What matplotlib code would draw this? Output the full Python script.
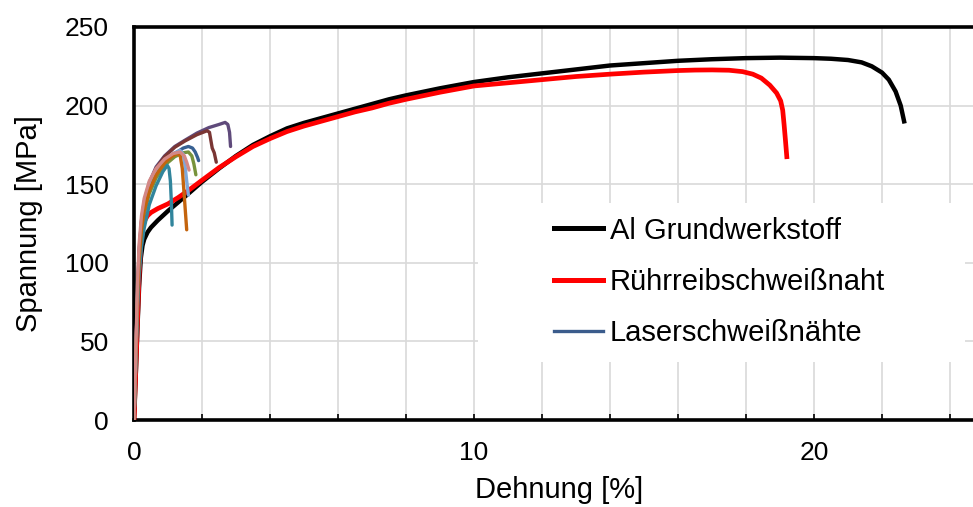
import matplotlib
matplotlib.use("Agg")
import matplotlib.pyplot as plt
from matplotlib.patches import Rectangle
from matplotlib.lines import Line2D

plt.rcParams['font.family'] = ['Liberation Sans', 'DejaVu Sans']

# Grundwerkstoff (Aluminium)
grund_dehnung = [0, 0.05, 0.1, 0.15, 0.2, 0.25, 0.3, 0.4, 0.5, 0.7, 1.0, 1.3, 1.6, 2.0, 2.5,
                 3.0, 3.5, 4.0, 4.5, 5.0, 5.5, 6.0, 6.5, 7.0, 7.5, 8.0, 9.0, 10, 11, 12, 13, 14, 15, 16, 17,
                 18, 19, 20, 20.5, 21, 21.4, 21.7, 22.0, 22.2, 22.4, 22.55, 22.65]
grund_spannung = [0, 28, 58, 85, 103, 111, 115, 119.5, 122.5, 127, 133, 138.5, 144, 151.5, 160,
                  168, 175, 180.5, 185.5, 189, 192, 195, 198, 201, 204, 206.5, 211, 215, 218, 220.5, 223, 225.5,
                  227, 228.5, 229.5, 230.2, 230.5, 230.2, 229.8, 229, 227.5, 225, 221, 216.5, 209, 200, 190]

# Rührreibschweißnaht
rrs_dehnung = [0, 0.05, 0.1, 0.15, 0.2, 0.25, 0.3, 0.4, 0.5, 0.7, 1.0, 1.3, 1.6, 2.0, 2.5,
               3.0, 3.5, 4.0, 4.5, 5.0, 5.5, 6.0, 6.5, 7.0, 7.5, 8.0, 9.0, 10, 11, 12, 13, 14, 15, 16, 16.5,
               17, 17.5, 17.9, 18.2, 18.45, 18.7, 18.9, 19.02, 19.08, 19.12, 19.16, 19.2]
rrs_spannung = [0, 30, 62, 92, 112, 121.5, 126.5, 130, 132, 134.5, 137.5, 141.5, 146, 152.5, 160.5,
                167.5, 174, 179, 183.5, 187, 190, 193, 196, 198.5, 201.5, 204, 208.5, 212.5, 214.5, 216.5, 218.5, 220,
                221.3, 222.3, 222.6, 222.7, 222.5, 221.6, 220, 217.5, 213, 208, 203, 197, 188, 178, 167.5]

# Laserschweißnähte (einzelne Proben)
laser_lila_x = [0, 0.05, 0.1, 0.15, 0.22, 0.3, 0.45, 0.65, 0.9, 1.2, 1.5, 1.85, 2.2, 2.5, 2.68, 2.76, 2.81, 2.84]
laser_lila_y = [0, 38, 80, 108, 127, 139, 151, 161, 168, 174, 178, 182.5, 186, 188, 189.3, 188, 183, 174]

laser_braun_x = [0, 0.05, 0.1, 0.15, 0.22, 0.3, 0.45, 0.65, 0.9, 1.2, 1.5, 1.85, 2.15, 2.22, 2.26, 2.3, 2.36, 2.42]
laser_braun_y = [0, 38, 80, 107, 126, 138, 150, 160, 167.5, 173.5, 177.5, 181.5, 184, 183, 178, 173, 170, 164]

laser_blau_x = [0, 0.05, 0.1, 0.15, 0.22, 0.3, 0.45, 0.65, 0.9, 1.2, 1.45, 1.6, 1.72, 1.8, 1.87, 1.9]
laser_blau_y = [0, 36, 76, 103, 122, 134, 147, 157, 164, 169.5, 173, 174, 173, 170.5, 167, 165]

laser_gruen_x = [0, 0.05, 0.1, 0.15, 0.22, 0.3, 0.45, 0.65, 0.9, 1.2, 1.45, 1.6, 1.7, 1.76, 1.82]
laser_gruen_y = [0, 35, 74, 100, 119, 131, 144, 154, 162, 167.5, 170, 170.5, 168, 163, 156]

laser_hellblau_x = [0, 0.05, 0.1, 0.15, 0.22, 0.3, 0.45, 0.65, 0.9, 1.15, 1.35, 1.45, 1.5, 1.55, 1.6]
laser_hellblau_y = [0, 37, 78, 104, 123, 135, 148, 158, 165, 169.5, 171.5, 169, 162, 152, 143]

laser_tuerkis_x = [0, 0.05, 0.1, 0.15, 0.22, 0.3, 0.45, 0.65, 0.85, 0.98, 1.03, 1.07, 1.1, 1.12]
laser_tuerkis_y = [0, 33, 68, 92, 110, 122, 137, 149, 158, 162, 160, 152, 138, 124]

laser_orange_x = [0, 0.05, 0.1, 0.15, 0.22, 0.3, 0.45, 0.65, 0.9, 1.1, 1.28, 1.36, 1.42, 1.47, 1.52, 1.55]
laser_orange_y = [0, 36, 76, 102, 121, 133, 146, 156, 163.5, 167.5, 169.6, 168, 160, 145, 130, 121]

laser_rosa_x = [0, 0.05, 0.1, 0.15, 0.22, 0.3, 0.45, 0.65, 0.9, 1.15, 1.35, 1.48, 1.55, 1.62]
laser_rosa_y = [0, 40, 85, 112, 130, 141, 152, 160, 166, 169.5, 170.5, 168, 164, 159]

fig = plt.figure(figsize=(9.73, 5.07), dpi=100)
# right edge of the axes sits just outside the canvas (x = 25)
ax = fig.add_axes([134/973, 1 - 420/507, 850/973, 393/507])

ax.plot(grund_dehnung, grund_spannung, color='black', lw=3.2, solid_joinstyle='round', zorder=3)
ax.plot(rrs_dehnung, rrs_spannung, color='#FF0000', lw=3.4, solid_joinstyle='round', zorder=4)

laser = [
    (laser_lila_x, laser_lila_y, '#5F4A7B'),
    (laser_braun_x, laser_braun_y, '#7A3634'),
    (laser_blau_x, laser_blau_y, '#376092'),
    (laser_gruen_x, laser_gruen_y, '#77933C'),
    (laser_hellblau_x, laser_hellblau_y, '#7FA8DA'),
    (laser_tuerkis_x, laser_tuerkis_y, '#31859C'),
    (laser_orange_x, laser_orange_y, '#C4640E'),
    (laser_rosa_x, laser_rosa_y, '#D48886'),
]
for lx, ly, c in laser:
    ax.plot(lx, ly, color=c, lw=2.4, solid_joinstyle='round', solid_capstyle='round', zorder=5)

ax.set_xlim(0, 25)
ax.set_ylim(0, 250)

xt = list(range(0, 26, 2))
ax.set_xticks(xt)
ax.set_xticklabels([str(v) if v % 10 == 0 else '' for v in xt])
ax.set_yticks(range(0, 251, 50))
ax.tick_params(axis='x', direction='in', length=4, width=1.2, pad=15, labelsize=19)
ax.tick_params(axis='y', length=0, pad=18, labelsize=19)

ax.grid(True, color='#D9D9D9', lw=1.2, zorder=0)
ax.set_axisbelow(True)
for s in ['top', 'left', 'bottom', 'right']:
    ax.spines[s].set_linewidth(2.6)

ax.set_xlabel('Dehnung [%]', fontsize=21, labelpad=8)
ax.set_ylabel('Spannung [MPa]', fontsize=21, labelpad=16)

# white legend background
ax.add_patch(Rectangle((344/850, 58/393), 487/850, 159/393, transform=ax.transAxes,
                       facecolor='white', edgecolor='none', zorder=2))
handles = [
    Line2D([], [], color='black', lw=3.6),
    Line2D([], [], color='#FF0000', lw=3.6),
    Line2D([], [], color='#3B5C8C', lw=2.4),
]
leg = ax.legend(handles, ['Al Grundwerkstoff', 'Rührreibschweißnaht', 'Laserschweißnähte'],
                loc='center left', bbox_to_anchor=(420/850, 138/393), frameon=False,
                fontsize=21, handlelength=1.67, handletextpad=0.25, labelspacing=0.8,
                borderpad=0, borderaxespad=0)
leg.set_zorder(6)

fig.savefig('out.png', dpi=100)
